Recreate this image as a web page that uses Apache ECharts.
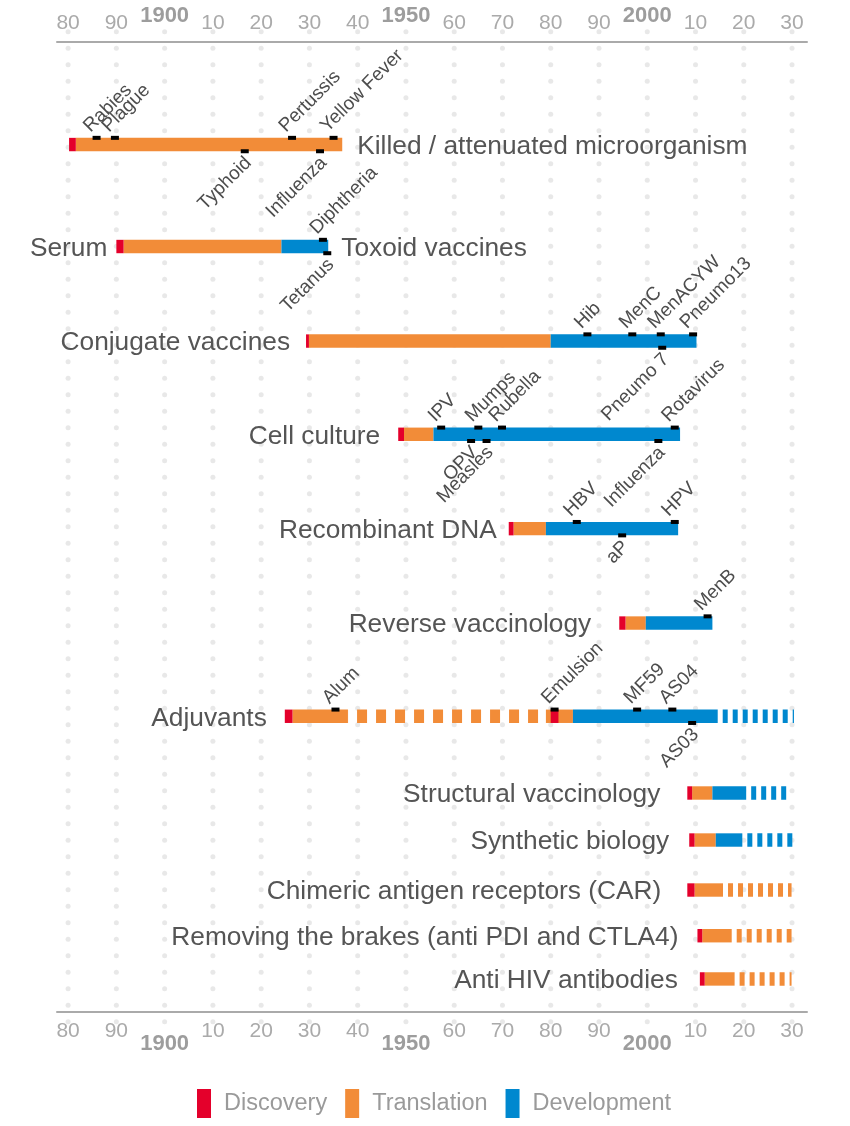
<!DOCTYPE html>
<html><head><meta charset="utf-8">
<script src="https://cdn.jsdelivr.net/npm/echarts@6/dist/echarts.min.js"></script>
<style>html,body{margin:0;padding:0;background:#fff}#c{width:850px;height:1126px}</style>
</head><body><div id="c"></div>
<script>
// ---------------- data ----------------
const leftLabels = ['', 'Serum', 'Conjugate vaccines', 'Cell culture', 'Recombinant DNA', 'Reverse vaccinology', 'Adjuvants',
  'Structural vaccinology', 'Synthetic biology', 'Chimeric antigen receptors (CAR)', 'Removing the brakes (anti PDI and CTLA4)', 'Anti HIV antibodies'];
const rightLabels = ['Killed / attenuated microorganism', 'Toxoid vaccines', '', '', '', '', '', '', '', '', '', ''];
// vertical position of each technology row (in dot-row units)
const rowPos = [6.84, 13.02, 18.75, 24.40, 30.12, 35.84, 41.49, 46.14, 48.99, 52.02, 54.79, 57.41];

// [row, start year, end year]
const discovery = [
  [0, 1880.2, 1881.6], [1, 1890.0, 1891.5], [2, 1929.3, 1929.9], [3, 1948.4, 1949.6], [4, 1971.3, 1972.3],
  [5, 1994.2, 1995.5], [6, 1924.9, 1926.5], [6, 1980.0, 1981.6], [7, 2008.3, 2009.3], [8, 2008.7, 2009.8],
  [9, 2008.3, 2009.8], [10, 2010.4, 2011.4], [11, 2010.9, 2011.9]
];
const translation = [
  [0, 1881.6, 1936.8], [1, 1891.5, 1924.2], [2, 1929.9, 1980.0], [3, 1949.6, 1955.7], [4, 1972.3, 1979.0],
  [5, 1995.5, 1999.7], [6, 1926.5, 1937.8], [6, 1979.0, 1984.6], [7, 2009.3, 2013.5], [8, 2009.8, 2014.2],
  [9, 2009.8, 2015.7], [10, 2011.4, 2017.5], [11, 2011.9, 2018.1]
];
const translationDormant = [[6, 1937.8, 1979.0]];
const translationFuture = [[9, 2015.7, 2029.9], [10, 2017.5, 2029.9], [11, 2018.1, 2029.9]];
const development = [
  [1, 1924.2, 1933.9], [2, 1980.0, 2010.2], [3, 1955.7, 2006.8], [4, 1979.0, 2006.4], [5, 1999.7, 2013.5],
  [6, 1984.6, 2014.6], [7, 2013.5, 2020.5], [8, 2014.2, 2019.7]
];
const developmentFuture = [[6, 2014.6, 2030.4], [7, 2020.5, 2029.4], [8, 2019.7, 2030.1]];

// [row, year, label, side]
const milestones = [
  [0, 1885.9, 'Rabies', 'up'], [0, 1889.7, 'Plague', 'up'], [0, 1916.6, 'Typhoid', 'down'], [0, 1926.4, 'Pertussis', 'up'],
  [0, 1932.2, 'Influenza', 'down'], [0, 1935.0, 'Yellow Fever', 'up'],
  [1, 1932.8, 'Diphtheria', 'up'], [1, 1933.7, 'Tetanus', 'down'],
  [2, 1987.6, 'Hib', 'up'], [2, 1996.9, 'MenC', 'up'], [2, 2002.8, 'MenACYW', 'up'], [2, 2009.5, 'Pneumo13', 'up'], [2, 2003.1, 'Pneumo 7', 'down'],
  [3, 1957.3, 'IPV', 'up'], [3, 1965.0, 'Mumps', 'up'], [3, 1969.9, 'Rubella', 'up'], [3, 2005.7, 'Rotavirus', 'up'],
  [3, 1963.5, 'OPV', 'down'], [3, 1966.7, 'Measles', 'down'], [3, 2002.3, 'Influenza', 'down'],
  [4, 1985.4, 'HBV', 'up'], [4, 2005.7, 'HPV', 'up'], [4, 1994.8, 'aP', 'down'],
  [5, 2012.5, 'MenB', 'up'],
  [6, 1935.4, 'Alum', 'up'], [6, 1980.8, 'Emulsion', 'up'], [6, 1997.9, 'MF59', 'up'], [6, 2005.2, 'AS04', 'up'], [6, 2009.3, 'AS03', 'down']
];
const boldYears = [1900, 1950, 2000];
const phaseNames = ['Discovery', 'Translation', 'Development'];

// ---------------- layout / style ----------------
const COLORS = {Discovery: '#E4002B', Translation: '#F28C38', Development: '#0088CF'};
const BAR_H = 13.4;
const FONT = '"Liberation Sans", Arial, Helvetica, sans-serif';
const leftGap = [0, 9, 16, 18, 12, 28, 18, 27, 20, 26, 19, 22];
const rightGap = [15, 13, 0, 0, 0, 0, 0, 0, 0, 0, 0, 0];
const X_MIN = 1877.7, X_MAX = 2033.1;

const chart = echarts.init(document.getElementById('c'), null, {renderer: 'canvas'});

function segRenderer(color) {
  return function (params, api) {
    const y = api.value(0), x0 = api.value(1), x1 = api.value(2), kind = api.value(3);
    const p0 = api.coord([x0, y]), p1 = api.coord([x1, y]);
    if (kind === 0) {
      return {type: 'rect', shape: {x: p0[0], y: p0[1] - BAR_H / 2, width: p1[0] - p0[0], height: BAR_H},
        style: {fill: color}};
    }
    const dash = kind === 1 ? [10, 9] : [5, 5];
    return {type: 'line', shape: {x1: p0[0], y1: p0[1], x2: p1[0], y2: p1[1]},
      style: {stroke: color, lineWidth: BAR_H, lineDash: dash, lineDashOffset: dash[1], lineCap: 'butt'}};
  };
}
function toData(arr, kind) { return arr.map(d => [rowPos[d[0]], d[1], d[2], kind]); }

const rowExtent = rowPos.map((_, i) => {
  const all = [].concat(discovery, translation, translationDormant, translationFuture, development, developmentFuture).filter(d => d[0] === i);
  return [Math.min(...all.map(d => d[1])), Math.max(...all.map(d => d[2]))];
});

// dot grid
const dots = [];
for (let yr = 1880; yr <= 2030; yr += 10) for (let r = 0; r <= 60; r++) dots.push([yr, r]);

const xBase = {type: 'value', min: X_MIN, max: X_MAX, minInterval: 10, maxInterval: 10, splitLine: {show: false}, axisTick: {show: false}};
function regularLabel(v) {
  if (Math.abs(v - Math.round(v)) > 1e-6 || v % 10 !== 0 || boldYears.includes(v)) return '';
  return String(v % 100);
}
function boldLabel(v) { return boldYears.includes(v) ? String(v) : ''; }

const option = {
  animation: false,
  backgroundColor: '#fff',
  textStyle: {fontFamily: FONT},
  grid: {left: 57, right: 43, top: 42, bottom: 114.3, containLabel: false},
  xAxis: [
    Object.assign({}, xBase, {position: 'top', axisLine: {show: true, lineStyle: {color: '#aaaaaa', width: 2}},
      axisLabel: {formatter: regularLabel, color: '#aaaaaa', fontSize: 21, margin: 8, fontFamily: FONT}}),
    Object.assign({}, xBase, {position: 'top', axisLine: {show: false},
      axisLabel: {formatter: boldLabel, color: '#9d9d9d', fontSize: 22, fontWeight: 'bold', margin: 15, fontFamily: FONT}}),
    Object.assign({}, xBase, {position: 'bottom', axisLine: {show: true, lineStyle: {color: '#aaaaaa', width: 2}},
      axisLabel: {formatter: regularLabel, color: '#aaaaaa', fontSize: 21, margin: 9, fontFamily: FONT}}),
    Object.assign({}, xBase, {position: 'bottom', axisLine: {show: false},
      axisLabel: {formatter: boldLabel, color: '#9d9d9d', fontSize: 22, fontWeight: 'bold', margin: 21, fontFamily: FONT}})
  ],
  yAxis: {type: 'value', inverse: true, min: 0.625, max: 0.625 + 969.7 / 16.5, show: false},
  legend: {
    data: phaseNames, top: 1089, left: 197, padding: 0, icon: 'rect', itemWidth: 14, itemHeight: 29, itemGap: 18,
    textStyle: {fontSize: 23.5, color: '#9a9a9a', fontFamily: FONT, padding: [0, 0, 0, 8]}, selectedMode: false
  },
  series: [
    {type: 'scatter', name: 'grid', data: dots, symbolSize: 5, silent: true, clip: false, z: 0,
      itemStyle: {color: '#e2e2e2'}, xAxisIndex: 0},
    {type: 'custom', name: 'Translation', z: 3, clip: false, itemStyle: {color: COLORS.Translation},
      renderItem: segRenderer(COLORS.Translation),
      data: [].concat(toData(translation, 0), toData(translationDormant, 1), toData(translationFuture, 2))},
    {type: 'custom', name: 'Development', z: 3, clip: false, itemStyle: {color: COLORS.Development},
      renderItem: segRenderer(COLORS.Development),
      data: [].concat(toData(development, 0), toData(developmentFuture, 2))},
    {type: 'custom', name: 'Discovery', z: 4, clip: false, itemStyle: {color: COLORS.Discovery},
      renderItem: segRenderer(COLORS.Discovery), data: toData(discovery, 0)},
    {type: 'custom', name: 'milestones', z: 5, clip: false, silent: true,
      data: milestones.map(m => [rowPos[m[0]], m[1], m[2], m[3]]),
      renderItem: function (params, api) {
        const y = api.value(0), x = api.value(1), m = milestones[params.dataIndex];
        const p = api.coord([x, y]);
        const up = m[3] === 'up';
        const edge = up ? p[1] - BAR_H / 2 : p[1] + BAR_H / 2;
        return {type: 'group', children: [
          {type: 'rect', shape: {x: p[0] - 4, y: edge - 2, width: 8, height: 4}, style: {fill: '#000'}},
          {type: 'text', x: up ? p[0] - 3 : p[0] - 3, y: up ? edge - 2 : edge + 2, rotation: Math.PI / 4,
            style: {text: m[2], fill: '#4d4d4d', font: '19px ' + FONT, align: up ? 'left' : 'right', verticalAlign: up ? 'bottom' : 'top'}}
        ]};
      }},
    {type: 'custom', name: 'rowLabels', z: 5, clip: false, silent: true,
      data: rowPos.map((y, i) => [y, rowExtent[i][0], rowExtent[i][1]]),
      renderItem: function (params, api) {
        const i = params.dataIndex;
        const y = api.value(0);
        const a = api.coord([api.value(1), y]), b = api.coord([api.value(2), y]);
        const children = [];
        if (leftLabels[i]) children.push({type: 'text', x: a[0] - leftGap[i], y: a[1] + 2,
          style: {text: leftLabels[i], fill: '#555555', font: '26.3px ' + FONT, align: 'right', verticalAlign: 'middle'}});
        if (rightLabels[i]) children.push({type: 'text', x: b[0] + rightGap[i], y: b[1] + 2,
          style: {text: rightLabels[i], fill: '#555555', font: '26.3px ' + FONT, align: 'left', verticalAlign: 'middle'}});
        return {type: 'group', children};
      }}
  ]
};
chart.setOption(option);
</script>
</body></html>
